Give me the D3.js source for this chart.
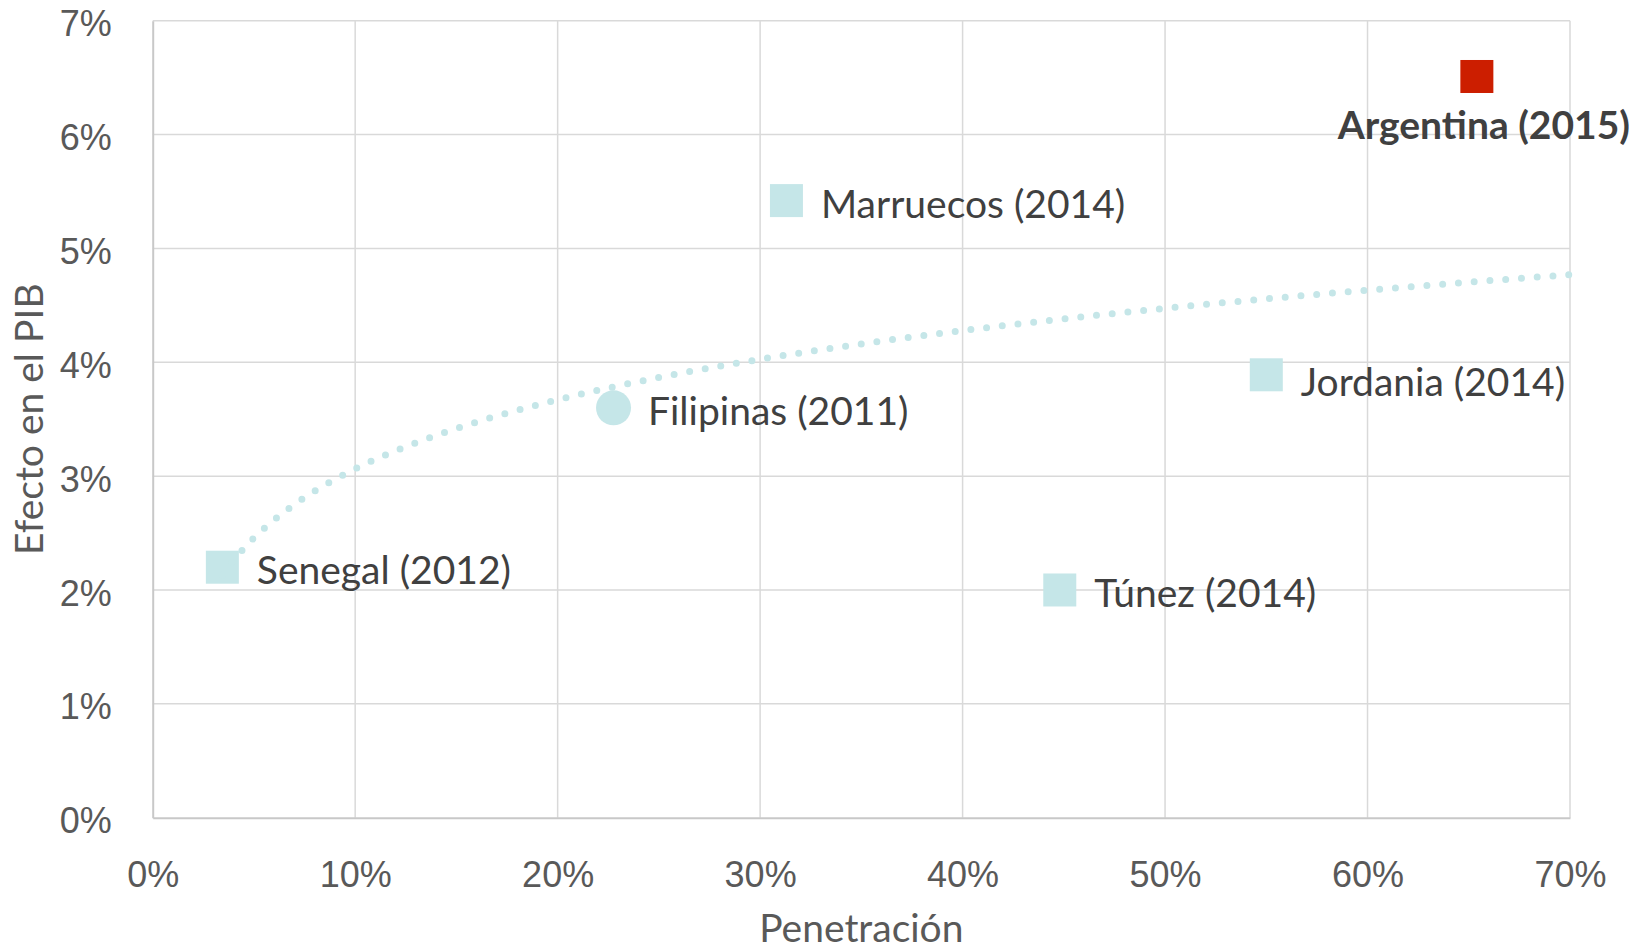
<!DOCTYPE html>
<html>
<head>
<meta charset="utf-8">
<script src="https://cdn.jsdelivr.net/npm/d3@7"></script>
<style>
  body { margin: 0; background: #fff; }
  svg { font-family: Lato, "Open Sans", sans-serif; }
</style>
</head>
<body>
<div id="chart"></div>
<script>
// data
var countries = ['Senegal (2012)', 'Filipinas (2011)', 'Marruecos (2014)', 'Túnez (2014)', 'Jordania (2014)', 'Argentina (2015)'];
var penetration = [0.0344, 0.2276, 0.313, 0.448, 0.55, 0.654];
var gdpEffect = [0.022, 0.036, 0.0542, 0.020, 0.0389, 0.0651];
var markerShape = ['square', 'circle', 'square', 'square', 'square', 'square'];
var xTicks = [0, 0.1, 0.2, 0.3, 0.4, 0.5, 0.6, 0.7];
var yTicks = [0, 0.01, 0.02, 0.03, 0.04, 0.05, 0.06, 0.07];

var W = 1649, H = 952;
var margin = { top: 20.7, right: 79, bottom: 134.3, left: 152.7 };
var width = W - margin.left - margin.right;
var height = H - margin.top - margin.bottom;

var teal = '#c5e6e8', red = '#cc1e00';

var svg = d3.select('#chart')
    .append('svg')
        .attr('width', W)
        .attr('height', H);

var g = svg.append('g')
    .attr('transform', 'translate(' + margin.left + ',' + margin.top + ')');

var x = d3.scaleLinear().domain([0, 0.7]).range([0, width]);
var y = d3.scaleLinear().domain([0, 0.07]).range([height, 0]);
var pct = d3.format('.0%');

// gridlines
g.selectAll('.vgrid')
    .data(xTicks.slice(1))
    .enter().append('line')
      .attr('x1', d => x(d)).attr('x2', d => x(d))
      .attr('y1', 0).attr('y2', height)
      .attr('stroke', '#d9d9d9')
      .style('stroke-width', 1.5);

g.selectAll('.hgrid')
    .data(yTicks.slice(1))
    .enter().append('line')
      .attr('x1', 0).attr('x2', width)
      .attr('y1', d => y(d)).attr('y2', d => y(d))
      .attr('stroke', '#d9d9d9')
      .style('stroke-width', 1.5);

// axes (only lines + labels)
var xAxis = g.append('g')
    .attr('transform', 'translate(0,' + height + ')')
    .call(d3.axisBottom(x).tickValues(xTicks).tickFormat(pct).tickSize(0).tickPadding(44));
var yAxis = g.append('g')
    .call(d3.axisLeft(y).tickValues(yTicks).tickFormat(pct).tickSize(0).tickPadding(41));

[xAxis, yAxis].forEach(function(a) {
    a.select('.domain').attr('stroke', '#c8c8c8').style('stroke-width', 2);
    a.selectAll('text')
      .attr('fill', '#595959')
      .style('font-size', '36px');
});
yAxis.selectAll('text').attr('dy', '0.42em');

// axis titles
svg.append('text')
    .attr('x', margin.left + width / 2)
    .attr('y', 942)
    .attr('text-anchor', 'middle')
    .attr('fill', '#595959')
    .style('font-size', '39px')
    .text('Penetración');

svg.append('text')
    .attr('transform', 'translate(43,' + (margin.top + height / 2) + ') rotate(-90)')
    .attr('text-anchor', 'middle')
    .attr('fill', '#595959')
    .style('font-size', '39px')
    .text('Efecto en el PIB');

// logarithmic trendline fitted to the points (least squares on ln x)
var lx = penetration.map(Math.log);
var mx = d3.mean(lx), my = d3.mean(gdpEffect);
var b = d3.sum(lx, (v, i) => (v - mx) * (gdpEffect[i] - my)) / d3.sum(lx, v => (v - mx) * (v - mx));
var a = my - b * mx;
var trendX = d3.range(d3.min(penetration), 0.7001, 0.005);

var line = d3.line()
    .x(d => x(d))
    .y(d => y(a + b * Math.log(d)))
    .curve(d3.curveMonotoneX);

// markers
var pts = countries.map((c, i) => ({ name: c, px: penetration[i], py: gdpEffect[i], shape: markerShape[i], hi: i === 5 }));
var s = 33;

g.selectAll('.sq')
    .data(pts.filter(d => d.shape === 'square'))
    .enter().append('rect')
      .attr('x', d => x(d.px) - s / 2)
      .attr('y', d => y(d.py) - s / 2)
      .attr('width', s).attr('height', s)
      .style('fill', d => d.hi ? red : teal);

g.selectAll('.ci')
    .data(pts.filter(d => d.shape === 'circle'))
    .enter().append('circle')
      .attr('cx', d => x(d.px))
      .attr('cy', d => y(d.py))
      .attr('r', 17.5)
      .style('fill', teal);

g.append('path')
    .datum(trendX)
    .attr('d', line)
    .attr('fill', 'none')
    .attr('stroke', teal)
    .attr('stroke-linecap', 'round')
    .attr('stroke-dasharray', '0 15.8')
    .style('stroke-width', 7);

// labels
g.selectAll('.lbl')
    .data(pts)
    .enter().append('text')
      .attr('x', d => d.hi ? x(d.px) + 7 : x(d.px) + s / 2 + 18)
      .attr('y', d => d.hi ? y(d.py) + 63 : y(d.py) + (d.name.indexOf('Jordania') === 0 ? 21 : 17))
      .attr('text-anchor', d => d.hi ? 'middle' : 'start')
      .attr('fill', '#404040')
      .style('font-size', '39px')
      .style('font-weight', d => d.hi ? 'bold' : 'normal')
      .text(d => d.name);
</script>
</body>
</html>
